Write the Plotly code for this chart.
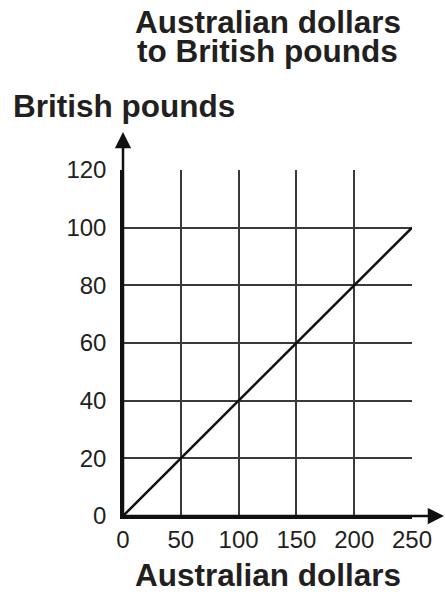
import plotly.graph_objects as go

# Data
aud = [0, 250]
gbp = [0, 100]
x_ticks = [0, 50, 100, 150, 200, 250]
y_ticks = [0, 20, 40, 60, 80, 100, 120]
title_lines = ["Australian dollars", "to British pounds"]
x_title = "Australian dollars"
y_title = "British pounds"

W, H = 445, 592
L, R, T, B = 123, 33, 169.5, 76
pw, ph = W - L - R, H - T - B

def px(xp):
    return (xp - L) / pw

def py(yp):
    return (H - B - yp) / ph

FONT = "Liberation Sans, Arial, Helvetica, sans-serif"
TXT = "#231f20"

fig = go.Figure()
fig.add_trace(go.Scatter(x=aud, y=gbp, mode="lines",
                         line=dict(color="#111", width=2.5),
                         hoverinfo="skip", showlegend=False))

fig.update_layout(
    width=W, height=H,
    margin=dict(l=L, r=R, t=T, b=B, pad=0),
    paper_bgcolor="white", plot_bgcolor="white",
    font=dict(family=FONT, color=TXT),
    xaxis=dict(range=[0, 250], tickvals=x_ticks, ticktext=[str(v) for v in x_ticks],
               showgrid=True, gridcolor="#3a3a3a", gridwidth=1.5,
               zeroline=False, showline=True, linecolor="#111", linewidth=2.5,
               ticks="", tickfont=dict(size=24, family=FONT, color=TXT),
               ticklabelstandoff=0, fixedrange=True),
    yaxis=dict(range=[0, 120], tickvals=y_ticks, ticktext=[str(v) for v in y_ticks],
               showgrid=True, gridcolor="#3a3a3a", gridwidth=1.5,
               zeroline=False, showline=True, linecolor="#111", linewidth=2.5,
               ticks="", tickfont=dict(size=24, family=FONT, color=TXT),
               ticklabelstandoff=9, fixedrange=True),
)

ann = []
# axis arrows
ann.append(dict(xref="paper", yref="paper", x=px(445), y=0, ax=-(445 - L), ay=0,
                axref="pixel", ayref="pixel", text="", showarrow=True,
                arrowhead=2, arrowsize=1.3, arrowwidth=2.5, arrowcolor="#111"))
ann.append(dict(xref="paper", yref="paper", x=0, y=py(131.5), ax=0, ay=(H - B - 131.5),
                axref="pixel", ayref="pixel", text="", showarrow=True,
                arrowhead=2, arrowsize=1.3, arrowwidth=2.5, arrowcolor="#111"))
# titles
TS = 31.5
ann.append(dict(xref="paper", yref="paper", x=0.5, y=py(21), xanchor="center", yanchor="middle",
                text="<b>%s</b>" % title_lines[0], showarrow=False,
                font=dict(size=TS, family=FONT, color=TXT)))
ann.append(dict(xref="paper", yref="paper", x=0.5, y=py(50.5), xanchor="center", yanchor="middle",
                text="<b>%s</b>" % title_lines[1], showarrow=False,
                font=dict(size=TS, family=FONT, color=TXT)))
ann.append(dict(xref="paper", yref="paper", x=px(11.5), y=py(105), xanchor="left", yanchor="middle",
                text="<b>%s</b>" % y_title, showarrow=False,
                font=dict(size=TS, family=FONT, color=TXT)))
ann.append(dict(xref="paper", yref="paper", x=0.5, y=py(575.5), xanchor="center", yanchor="middle",
                text="<b>%s</b>" % x_title, showarrow=False,
                font=dict(size=TS, family=FONT, color=TXT)))
fig.update_layout(annotations=ann)

fig.write_html("out.html", config={"displayModeBar": False},
               post_script="document.body.style.margin='0';document.body.style.overflow='hidden';")
